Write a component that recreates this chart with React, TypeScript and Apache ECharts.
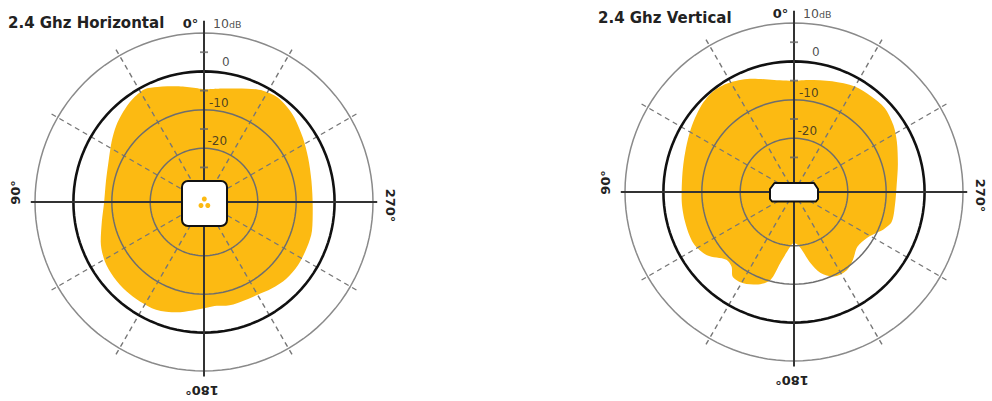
import React, { useEffect, useRef } from 'react';
import * as echarts from 'echarts';

// ---- data ----
const TITLES = ['2.4 Ghz Horizontal', '2.4 Ghz Vertical'];
const DEGREE_LABELS = ['0°', '90°', '180°', '270°'];
const RING_VALUES = [10, 0, -10, -20];
const RING_LABELS = ['10dB', '0', '-10', '-20'];
const MINOR_TICKS = [5, -5, -15, -25];
const DASH_ANGLES = [30, 60, 120, 150, 210, 240, 300, 330];

const H_ANGLES = [0, 13, 22, 28, 35, 42, 49, 57, 67, 78, 90, 101, 111, 121, 130, 139, 147, 156, 166, 174, 182, 187, 192, 200, 210, 218, 227, 236, 246, 255, 267, 281, 293, 303, 313, 319, 325, 332, 339, 350, 360];
const H_DB = [-4.7, -3.1, -1.7, -0.8, -1.4, -2.5, -3.7, -5.3, -7.0, -7.9, -8.0, -6.9, -5.2, -3.9, -3.4, -3.2, -3.2, -3.3, -4.4, -5.6, -6.5, -6.8, -6.4, -6.3, -6.1, -5.4, -4.7, -4.5, -4.7, -4.9, -5.65, -5.5, -4.55, -3.3, -1.8, -1.1, -0.7, -1.2, -2.4, -4.0, -4.7];

const V_ANGLES = [0, 10, 20, 30, 38, 47, 60, 76, 93, 105, 117, 126, 135, 140, 144, 151, 158, 165, 169, 176, 180, 186, 193, 198, 205, 214, 221, 229, 238, 244, 247, 253, 263, 274, 285, 296, 304, 313, 321, 330, 341, 353, 360];
const V_DB = [-5.1, -4.4, -2.6, -1.0, -0.4, -1.0, -2.7, -4.3, -4.7, -4.6, -4.6, -6.0, -9.1, -8.7, -6.8, -6.8, -8.0, -10.3, -15.1, -19.7, -20.7, -19.6, -15.0, -11.9, -9.7, -9.4, -10.6, -12.2, -11.5, -9.9, -8.8, -7.4, -7.5, -7.2, -6.0, -4.2, -2.8, -1.8, -2.0, -2.3, -3.5, -4.6, -5.1];

const PATTERNS = [
  { angles: H_ANGLES, db: H_DB },
  { angles: V_ANGLES, db: V_DB },
];

// ---- layout / style ----
const R_MIN = -34;
const R_MAX = 14;
const PX_PER_DB = 169 / 44;
const CENTERS: [number, number][] = [[204, 202], [794, 192]];
const YELLOW = '#FCBA12';
const FONT = '"DejaVu Sans", sans-serif';
const DASH_END = 12.8;
const AXIS_EXT = { up: 13.2, down: 11.4, side: 11.1 };
const RING_STYLES = [
  { color: '#8a8a8a', width: 1.5 },
  { color: '#111', width: 2.6 },
  { color: '#6e6e6e', width: 1.5 },
  { color: '#6e6e6e', width: 1.5 },
];
const RING_LABEL_OFFSETS = [[9, -10], [18, -9], [5, -7], [3.5, -7.5]];
const RING_SAMPLE = Array.from({ length: 121 }, (_, i) => i * 3);

function buildOption() {
  const polar: any[] = [];
  const angleAxis: any[] = [];
  const radiusAxis: any[] = [];
  const series: any[] = [];
  const graphic: any[] = [];

  CENTERS.forEach((c, i) => {
    polar.push({ center: c, radius: [0, (R_MAX - R_MIN) * PX_PER_DB] });
    angleAxis.push({ polarIndex: i, type: 'value', min: 0, max: 360, startAngle: 90, clockwise: false, show: false });
    radiusAxis.push({ polarIndex: i, type: 'value', min: R_MIN, max: R_MAX, show: false });

    const p = PATTERNS[i];
    series.push({
      type: 'line', coordinateSystem: 'polar', polarIndex: i,
      data: p.angles.map((a, k) => [p.db[k], a]),
      smooth: 0.3, symbol: 'none', silent: true,
      lineStyle: { width: 0, opacity: 0 },
      areaStyle: { color: YELLOW, opacity: 1, origin: 'start' },
      z: 1,
    });

    DASH_ANGLES.forEach((a) => {
      series.push({
        type: 'line', coordinateSystem: 'polar', polarIndex: i,
        data: [[R_MIN, a], [DASH_END, a]], symbol: 'none', silent: true, clip: false,
        lineStyle: { color: '#777', width: 1.4, type: [5, 4] }, z: 2,
      });
    });

    RING_VALUES.forEach((v, k) => {
      series.push({
        type: 'line', coordinateSystem: 'polar', polarIndex: i,
        data: RING_SAMPLE.map((a) => [v, a]), symbol: 'none', silent: true, clip: false,
        lineStyle: RING_STYLES[k], z: 3,
      });
    });

    series.push({
      type: 'line', coordinateSystem: 'polar', polarIndex: i,
      data: [[AXIS_EXT.up, 0], [R_MIN, 0], [AXIS_EXT.down, 180]], symbol: 'none', silent: true, clip: false,
      lineStyle: { color: '#333', width: 2 }, z: 4,
    });
    series.push({
      type: 'line', coordinateSystem: 'polar', polarIndex: i,
      data: [[AXIS_EXT.side, 90], [R_MIN, 90], [AXIS_EXT.side, 270]], symbol: 'none', silent: true, clip: false,
      lineStyle: { color: '#333', width: 2 }, z: 4,
    });

    series.push({
      type: 'scatter', coordinateSystem: 'polar', polarIndex: i,
      data: MINOR_TICKS.map((v) => [v, 0]), symbol: 'rect', symbolSize: [8, 1.8], silent: true,
      itemStyle: { color: '#666' }, z: 5,
    });

    series.push({
      type: 'scatter', coordinateSystem: 'polar', polarIndex: i, symbolSize: 0, silent: true, z: 6,
      itemStyle: { color: '#222' },
      data: RING_VALUES.map((v, k) => ({
        value: [v, 0],
        label: { offset: RING_LABEL_OFFSETS[k] },
      })),
      label: {
        show: true, position: 'inside', align: 'left', verticalAlign: 'middle',
        fontFamily: FONT, fontSize: 12, color: '#222',
        textBorderWidth: 0, textBorderColor: 'transparent',
        formatter: (prm: any) => {
          const t = RING_LABELS[prm.dataIndex];
          return t.endsWith('dB') ? `{a|${t.slice(0, -2)}}{b|dB}` : t;
        },
        rich: {
          a: { fontFamily: FONT, fontSize: 12.5, color: '#222', textBorderWidth: 0 },
          b: { fontFamily: FONT, fontSize: 9.5, color: '#222', textBorderWidth: 0, padding: [2, 0, 0, 0] },
        },
      },
    });

    const [cx, cy] = c;
    graphic.push({
      type: 'text', x: i === 0 ? 8 : 598, y: i === 0 ? 23 : 17.5, z: 20,
      style: { text: TITLES[i], fontFamily: FONT, fontSize: 15, fontWeight: 'bold', fill: '#222', align: 'left', verticalAlign: 'middle' },
    });
    const degPos = [
      { x: cx - 5.7, y: cy - 178.5, rot: 0, align: 'right' },
      { x: cx - 188.5, y: cy - 9.5, rot: Math.PI / 2, align: 'center' },
      { x: cx - 2, y: cy + 188, rot: Math.PI, align: 'center' },
      { x: cx + 186.5, y: cy + 3.5, rot: -Math.PI / 2, align: 'center' },
    ];
    DEGREE_LABELS.forEach((t, k) => {
      const d = degPos[k];
      graphic.push({
        type: 'text', x: d.x, y: d.y, rotation: d.rot, z: 20,
        style: { text: t, fontFamily: FONT, fontSize: 13, fontWeight: 'bold', fill: '#222', align: d.align, verticalAlign: 'middle' },
      });
    });
    if (i === 0) {
      graphic.push({
        type: 'rect', z: 10,
        shape: { x: cx - 22, y: cy - 21, width: 45, height: 45, r: 6 },
        style: { fill: '#fff', stroke: '#111', lineWidth: 2 },
      });
      const dots = [[0.3, -3], [-3, 3.5], [3.8, 3.5]];
      dots.forEach(([dx, dy]) => {
        graphic.push({ type: 'circle', z: 11, shape: { cx: cx + dx, cy: cy + dy, r: 2.5 }, style: { fill: YELLOW } });
      });
    } else {
      graphic.push({
        type: 'polygon', z: 10,
        shape: {
          points: [
            [cx - 19.5, cy - 9], [cx + 20, cy - 9], [cx + 24, cy - 3], [cx + 24, cy + 7],
            [cx + 22, cy + 9.5], [cx - 22, cy + 9.5], [cx - 24, cy + 7], [cx - 24, cy - 3],
          ],
          smooth: 0,
        },
        style: { fill: '#fff', stroke: '#111', lineWidth: 2, lineJoin: 'round' },
      });
    }
  });

  return { animation: false, backgroundColor: '#fff', polar, angleAxis, radiusAxis, series, graphic };
}

export default function App() {
  const ref = useRef<HTMLDivElement>(null);
  useEffect(() => {
    if (!ref.current) return;
    const chart = echarts.init(ref.current, null, { renderer: 'svg' });
    chart.setOption(buildOption() as any);
    return () => chart.dispose();
  }, []);
  return (
    <div
      ref={ref}
      style={{ position: 'fixed', left: 0, top: 0, width: 992, height: 401, background: '#fff' }}
    />
  );
}
